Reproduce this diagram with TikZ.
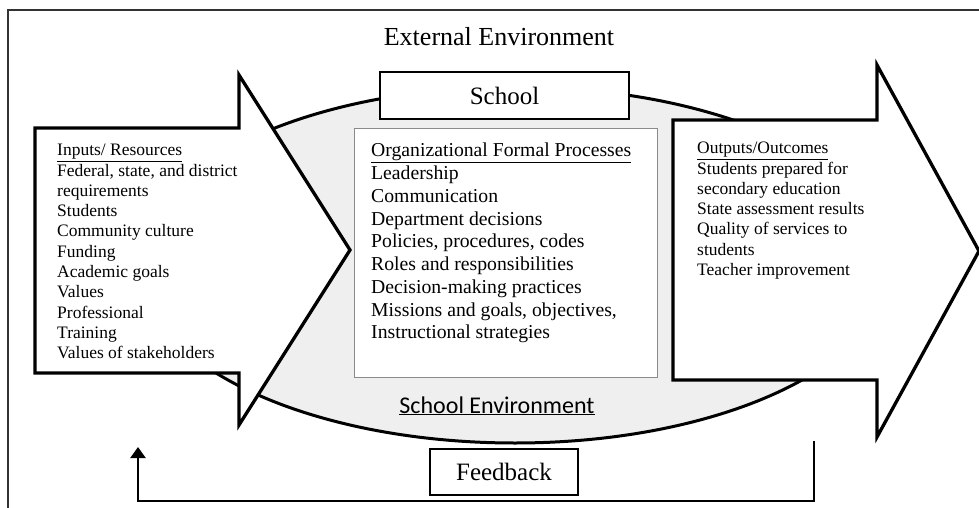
\documentclass[tikz,border=0pt]{standalone}
\usepackage{xcolor}
\usepackage{fontspec}
\setmainfont{Liberation Serif}
\newfontfamily\calfont{Carlito}
\usetikzlibrary{arrows.meta, positioning}
\definecolor{envgray}{HTML}{EFEFEF}
\definecolor{framegray}{HTML}{333333}
\definecolor{boxgray}{HTML}{8A8A8A}

\begin{document}
\begin{tikzpicture}[x=1pt, y=-1pt,
    bigarrow/.style={draw=black, fill=white, line width=3.3pt, line join=miter},
    label/.style={rectangle, draw=black, fill=white, line width=1.4pt, font=\fontsize{25}{28}\selectfont},
    list/.style={inner sep=0pt, align=left, anchor=north west, font=\fontsize{17.5}{20.3}\selectfont},
    fbline/.style={line width=2.2pt, -{Triangle[width=15pt, length=11pt]}}]

    \useasboundingbox (0,0) rectangle (979,508);

    % outer frame
    \draw [framegray, line width=1.5pt] (979,10) -- (8,10) -- (8,508);
    \node (ext) at (499,37) {\fontsize{26}{28}\selectfont External Environment};

    % feedback loop
    \coordinate (fbstart) at (814,441);
    \coordinate (fbend) at (138,447);
    \draw [fbline] (fbstart) -- ++(0,60) -| (fbend);

    % school environment
    \draw [fill=envgray, line width=3pt] (515,265) ellipse [x radius=376, y radius=178];

    % inputs and outputs
    \draw [bigarrow] (35,128) -- (239,128) -- (239,75) -- (350,250) -- (239,425) -- (239,373) -- (35,373) -- cycle;
    \draw [bigarrow] (673,120) -- (877,120) -- (877,65) -- (979,251) -- (877,437) -- (877,380) -- (673,380) -- cycle;

    \node (proc) [rectangle, draw=boxgray, fill=white, line width=1pt, minimum width=303pt, minimum height=248pt] at (505.5,253) {};
    \node (school) [label, minimum width=249pt, minimum height=47pt] at (504.5,95.5) {School};
    \node (feedback) [label, minimum width=148pt, minimum height=46pt] at (504,472) {Feedback};

    \node (inputs) [list] at (57,144) {\underline{Inputs/ Resources}\\ Federal, state, and district\\ requirements\\ Students\\ Community culture\\ Funding\\ Academic goals\\ Values\\ Professional\\ Training\\ Values of stakeholders};
    \node (formal) [list, font=\fontsize{19.7}{22.75}\selectfont] at (371,143) {\underline{Organizational Formal Processes}\\ Leadership\\ Communication\\ Department decisions\\ Policies, procedures, codes\\ Roles and responsibilities\\ Decision-making practices\\ Missions and goals, objectives,\\ Instructional strategies};
    \node (outputs) [list] at (697,142) {\underline{Outputs/Outcomes}\\ Students prepared for\\ secondary education\\ State assessment results\\ Quality of services to\\ students\\ Teacher improvement};

    \node (schoolenv) [anchor=base, inner sep=0pt] at (497,413) {\calfont\fontsize{24}{28}\selectfont\underline{School Environment}};
\end{tikzpicture}
\end{document}
